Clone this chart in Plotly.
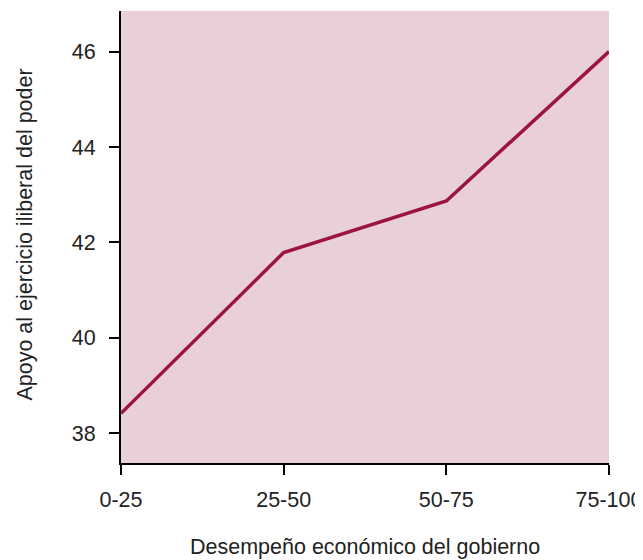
import plotly.graph_objects as go

categories = ["0-25", "25-50", "50-75", "75-100"]
support = [38.42, 41.79, 42.87, 46.0]
y_ticks = [38, 40, 42, 44, 46]
x_title = "Desempeño económico del gobierno"
y_title = "Apoyo al ejercicio iliberal del poder"

fig = go.Figure(go.Scatter(
    x=list(range(len(categories))), y=support, mode="lines",
    line=dict(color="#9B1540", width=3.5), hoverinfo="skip"))

font = dict(family="Liberation Sans, Arial, sans-serif", size=21.5, color="#222222")
fig.update_layout(
    template="none",
    width=643, height=560,
    margin=dict(l=113, r=42, t=3, b=105),
    paper_bgcolor="white", plot_bgcolor="#E8CFD8",
    showlegend=False, font=font,
    xaxis=dict(tickvals=list(range(len(categories))), ticktext=categories,
               range=[0, 3], showgrid=False, zeroline=False,
               showline=True, linecolor="black", linewidth=2,
               ticks="outside", ticklen=10, tickwidth=2, tickcolor="black",
               tickfont=font, automargin=False, ticklabelstandoff=6),
    yaxis=dict(tickvals=y_ticks, range=[37.38, 46.85], showgrid=False, zeroline=False,
               showline=True, linecolor="black", linewidth=2,
               ticks="outside", ticklen=10, tickwidth=2, tickcolor="black",
               tickfont=font, automargin=False, ticklabelstandoff=9),
    annotations=[
        dict(text=x_title, xref="paper", yref="paper", x=0.5, y=-0.186,
             xanchor="center", yanchor="middle", showarrow=False, font=font),
        dict(text=y_title, xref="paper", yref="paper", x=-0.197, y=0.505,
             xanchor="center", yanchor="middle", textangle=-90, showarrow=False, font=font),
    ],
)
fig.write_html("out.html")
